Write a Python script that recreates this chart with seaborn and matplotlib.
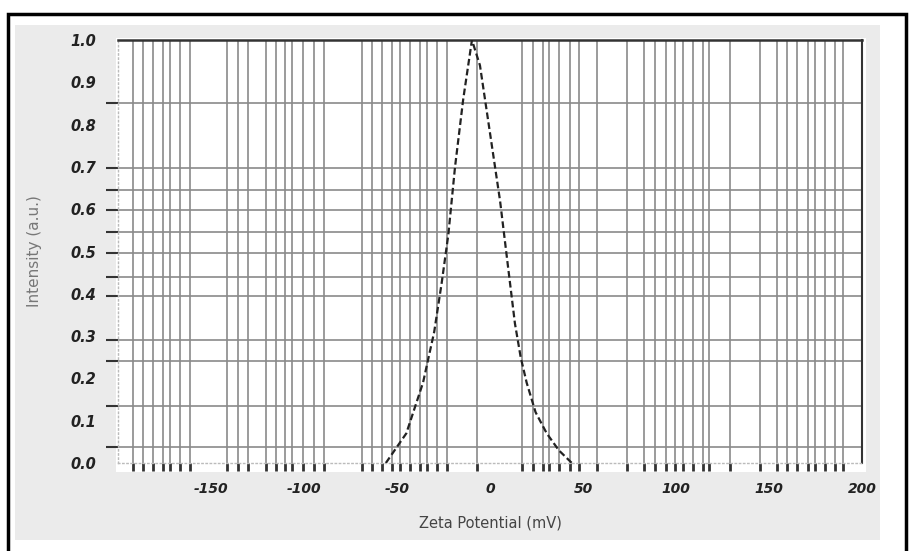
import numpy as np
import pandas as pd
import matplotlib
matplotlib.use("Agg")
import matplotlib.pyplot as plt
import matplotlib.patches as patches
from matplotlib.ticker import FixedLocator
import seaborn as sns

# zeta potential distribution
zeta_mv = [-56, -45, -36, -30, -26, -22.4, -18.8, -14.4, -9.7,
           -5.4, 0, 5.4, 9.8, 13.4, 16.5, 19.7, 24.5, 30.5, 37, 44]
intensity = [0.0, 0.07, 0.19, 0.31, 0.425, 0.54, 0.70, 0.86, 1.0,
             0.94, 0.78, 0.62, 0.46, 0.33, 0.25, 0.19, 0.12, 0.07, 0.03, 0.0]

x_ticks = [-150, -100, -50, 0, 50, 100, 150, 200]
y_ticks = [0.0, 0.1, 0.2, 0.3, 0.4, 0.5, 0.6, 0.7, 0.8, 0.9, 1.0]

# grid lines as they show up in the (aliased) picture
x_grid = [-192.1, -186.4, -181.0, -175.6, -172.0, -166.7, -161.3,
          -141.2, -135.3, -129.9, -120.4, -115.1, -110.2, -106.6, -100.4,
          -94.6, -89.2, -69.0, -63.6, -58.2, -52.8, -48.4, -43.0, -37.6,
          -34.0, -28.7, -23.3, -7.2, 17.0, 23.0, 28.3, 31.9, 37.3, 43.0,
          48.0, 57.4, 73.5, 82.8, 88.7, 94.6, 99.5, 103.6, 109.0, 114.4,
          117.9, 129.0, 145.2, 154.5, 159.8, 165.2, 171.1, 174.7, 180.1,
          185.5, 189.6, 200.0]
y_grid = [0.037, 0.135, 0.24, 0.29, 0.395, 0.44, 0.496, 0.545,
          0.598, 0.645, 0.697, 0.85, 1.0]

df = pd.DataFrame({"Zeta Potential (mV)": zeta_mv, "Intensity": intensity})

sns.set_style("white")
plt.rcParams["font.family"] = ["DejaVu Sans"]

fig = plt.figure(figsize=(9.11, 5.51), dpi=100)
W, H = 911, 551

# outer frame and grey panel (behind the axes)
fig.patches.append(patches.Rectangle((8 / W, -0.05), (906 - 8) / W, 1.05 - 14 / H,
                                     transform=fig.transFigure, fill=False,
                                     edgecolor="black", linewidth=2.5, zorder=-10))
fig.patches.append(patches.Rectangle((15 / W, 1 - 540 / H), (880 - 15) / W, (540 - 25) / H,
                                     transform=fig.transFigure, facecolor="#ebebeb",
                                     edgecolor="none", zorder=-10))
fig.patches.append(patches.Rectangle((116 / W, 1 - 472 / H), (866 - 116) / W, (472 - 38) / H,
                                     transform=fig.transFigure, facecolor="white",
                                     edgecolor="none", zorder=-10))

ax = fig.add_axes([118 / W, 1 - 463 / H, (862 - 118) / W, (463 - 40) / H])
ax.set_zorder(5)
ax.set_facecolor("white")

sns.lineplot(data=df, x="Zeta Potential (mV)", y="Intensity", ax=ax,
             color="#222222", linewidth=1.6, linestyle=(0, (3, 1.5)), zorder=5)

ax.set_xlim(-200, 200)
ax.set_ylim(0, 1.0)

ax.set_xticks(x_ticks)
ax.set_xticklabels([str(t) for t in x_ticks])
ax.set_yticks(y_ticks)
ax.set_yticklabels([f"{t:.1f}" for t in y_ticks])
ax.xaxis.set_minor_locator(FixedLocator(x_grid))
ax.yaxis.set_minor_locator(FixedLocator(y_grid))

ax.grid(False)
ax.grid(which="minor", axis="both", color="#8a8a8a", linewidth=1.2)

ax.tick_params(axis="x", which="major", length=0, pad=14, labelsize=10,
               labelcolor="#222222")
ax.tick_params(axis="x", which="minor", direction="out", length=6, width=2,
               color="#333333", bottom=True)
ax.tick_params(axis="y", which="major", length=0, pad=16, labelsize=10.5,
               labelcolor="#222222")
ax.tick_params(axis="y", which="minor", direction="out", length=9, width=1.5,
               color="#333333", left=True)
for lab in ax.get_xticklabels() + ax.get_yticklabels():
    lab.set_fontstyle("italic")
    lab.set_fontweight("bold")

for side in ["left", "bottom"]:
    ax.spines[side].set_color("#bbbbbb")
    ax.spines[side].set_linestyle((0, (1, 2)))
    ax.spines[side].set_linewidth(1)
ax.spines["top"].set_color("#333333")
ax.spines["top"].set_linewidth(1.8)
ax.spines["right"].set_color("#333333")
ax.spines["right"].set_linewidth(1.5)

ax.set_xlabel("Zeta Potential (mV)", fontsize=10.5, color="#444444", labelpad=14)
ax.set_ylabel("Intensity (a.u.)", fontsize=11, color="#777777", labelpad=20)

fig.savefig("out.png", dpi=100)
